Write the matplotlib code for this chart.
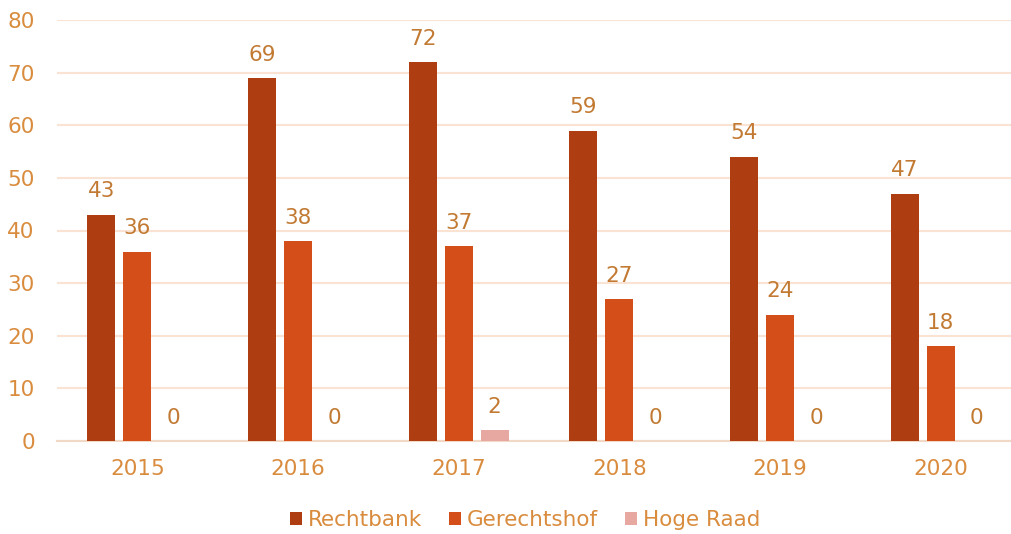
import matplotlib
matplotlib.use("Agg")
import matplotlib.pyplot as plt
import numpy as np

years = ["2015", "2016", "2017", "2018", "2019", "2020"]
series_names = ["Rechtbank", "Gerechtshof", "Hoge Raad"]
rechtbank = [43, 69, 72, 59, 54, 47]
gerechtshof = [36, 38, 37, 27, 24, 18]
hoge_raad = [0, 0, 2, 0, 0, 0]
yticks = [0, 10, 20, 30, 40, 50, 60, 70, 80]

colors = ["#AE3E12", "#D44E1A", "#E6A8A0"]
tick_color = "#D98C3E"
label_color = "#C27A33"
grid_color = "#FAE3D3"

plt.rcParams['font.family'] = ['DejaVu Sans']
FS = 15.5

fig = plt.figure(figsize=(10.12, 5.34), dpi=100)
W, H = 1012, 534
ax = fig.add_axes([57 / W, (H - 441) / H, (W - 57) / W, 421 / H])

x = np.arange(len(years))
bw = 28 / 160.5
step = 36 / 160.5
data = [rechtbank, gerechtshof, hoge_raad]
for i, (vals, name, c) in enumerate(zip(data, series_names, colors)):
    pos = x + (i - 1) * step
    ax.bar(pos, vals, width=bw, color=c, label=name, zorder=3)
    for p, v in zip(pos, vals):
        ax.annotate(str(v), (p, v), xytext=(0, 12.5), textcoords="offset points",
                    ha="center", va="baseline", fontsize=FS, color=label_color)

ax.set_xlim(-0.5, 5.5 - 9 / 160.5)
ax.set_ylim(0, 80)
ax.set_yticks(yticks)
ax.set_xticks(x)
ax.set_xticklabels(years)
ax.yaxis.grid(True, color=grid_color, linewidth=1.5, zorder=0)
ax.set_axisbelow(True)
for s in ["top", "right", "left"]:
    ax.spines[s].set_visible(False)
ax.spines["bottom"].set_color("#F2D9C6")
ax.spines["bottom"].set_linewidth(1.5)
ax.tick_params(axis="both", length=0, labelsize=FS, colors=tick_color)
ax.tick_params(axis="x", pad=13)
ax.tick_params(axis="y", pad=16)

leg = fig.legend(loc="center", bbox_to_anchor=(525 / W, 1 - 520 / H), ncol=3,
                 frameon=False, fontsize=FS, handlelength=0.55, handleheight=0.55,
                 handletextpad=0.28, columnspacing=1.25)
for t in leg.get_texts():
    t.set_color(tick_color)

fig.savefig("out.png", dpi=100)
